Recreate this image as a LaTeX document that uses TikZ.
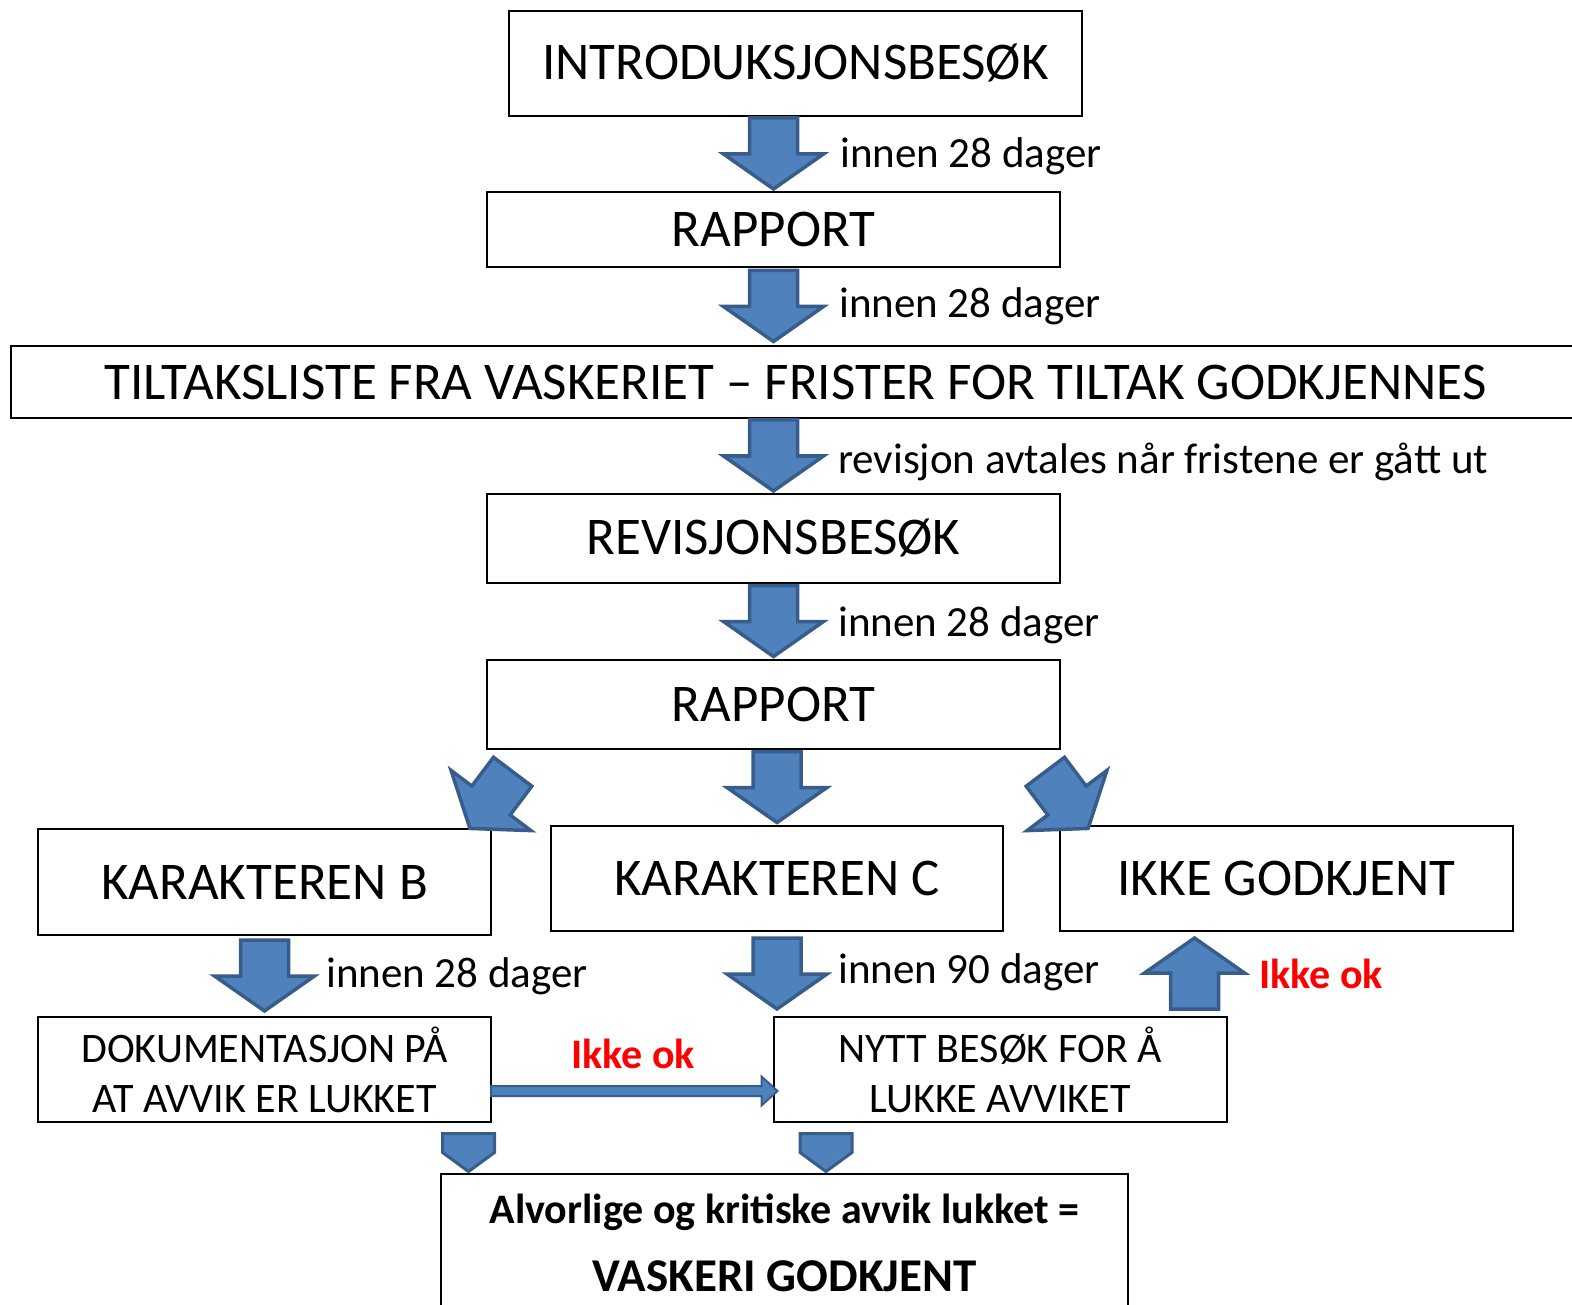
\documentclass[tikz,border=0pt]{standalone}
\usepackage{fontspec}
\setmainfont{Carlito}
\usetikzlibrary{calc, positioning}

\definecolor{arrowblue}{RGB}{79,129,189}
\definecolor{arrowedge}{RGB}{56,93,138}

\tikzset{
  box/.style={draw, line width=2pt, minimum width=573pt, inner sep=0pt,
    font=\fontsize{53}{60}\selectfont},
  smallbox/.style={box, minimum width=453pt, minimum height=105pt, align=center,
    font=\fontsize{42}{50}\selectfont},
  lbl/.style={anchor=base west, inner sep=0pt, font=\fontsize{43}{50}\selectfont},
  warn/.style={lbl, text=red, font=\fontsize{42}{50}\selectfont\bfseries},
  arrowfill/.style={fill=arrowblue, draw=arrowedge, line width=3.5pt},
  pics/blockarrow/.style={code={
    \draw[arrowfill] (-24,-36) -- (24,-36) -- (24,0) -- (50,0) -- (0,35)
      -- (-50,0) -- (-24,0) -- cycle;
  }},
  pics/stub/.style={code={
    \draw[arrowfill, line width=3pt] (-26,-19) -- (26,-19) -- (26,0) -- (0,19)
      -- (-26,0) -- cycle;
  }}
}

\begin{document}
\begin{tikzpicture}[x=1pt,y=-1pt]
\useasboundingbox (0,0) rectangle (1572,1305);

% boxes
\node[box, minimum height=105pt] (intro) at (795.5,63.5) {INTRODUKSJONSBESØK};
\node[box, minimum height=75pt] (rapA) at (773.5,229.5) {RAPPORT};
\node[box, minimum width=1569pt, minimum height=72pt] (tiltak) at (795.5,382)
  {TILTAKSLISTE FRA VASKERIET – FRISTER FOR TILTAK GODKJENNES};
\node[box, minimum height=89pt] (revis) at (773.5,538.5) {REVISJONSBESØK};
\node[box, minimum height=89pt] (rapB) at (773.5,704.5) {RAPPORT};

\node[box, minimum width=453pt, minimum height=106pt] (karB) at (264.5,882) {KARAKTEREN B};
\node[box, minimum width=452pt, minimum height=105pt] (karC) at (777,878.5) {KARAKTEREN C};
\node[box, minimum width=453pt, minimum height=105pt] (ikke) at (1286.5,878.5) {IKKE GODKJENT};

\node[smallbox] (dok) at (264.5,1069.5) {DOKUMENTASJON PÅ\\AT AVVIK ER LUKKET};
\node[smallbox] (nytt) at (1000,1069.5) {NYTT BESØK FOR Å\\LUKKE AVVIKET};

\node[box, minimum width=687pt, minimum height=150pt, anchor=north] (final) at (784.5,1173) {};
\node[font=\fontsize{42}{50}\selectfont\bfseries] (finalA) at ($(final.north)+(0,39)$)
  {Alvorlige og kritiske avvik lukket =};
\node[font=\fontsize{47}{55}\selectfont\bfseries] (finalB) at ($(final.north)+(0,103)$)
  {VASKERI GODKJENT};

% block arrows
\pic at ($(intro.south -| rapA.center)!.5!(rapA.north)$) {blockarrow};
\pic at ($(rapA.south)!.5!(tiltak.north -| rapA.south)$) {blockarrow};
\pic at ($(tiltak.south -| revis.north)!.5!(revis.north)$) {blockarrow};
\pic at ($(revis.south)!.5!(rapB.north)$) {blockarrow};
\pic at ($(rapB.south -| karC.north)!.5!(karC.north)$) {blockarrow};
\pic[rotate=-37] at ($(rapB.south west)+(5,50.5)$) {blockarrow};
\pic[rotate=37] at ($(rapB.south east)+(6,50.5)$) {blockarrow};
\pic at ($(karB.south)!.5!(dok.north -| karB.south)$) {blockarrow};
\pic at ($(karC.south)!.5!(nytt.north -| karC.south)$) {blockarrow};
\pic[rotate=180] at ($(nytt.north east)+(-33,-43)$) {blockarrow};
\pic at ($(final.north west)+(28.5,-20.5)$) {stub};
\pic at ($(final.north west)+(386,-20.5)$) {stub};

% thin arrow dok -> nytt
\draw[arrowfill, line width=2pt] ($(dok.east)+(-1,16.5)$) -- ($(nytt.west)+(-11,16.5)$)
  -- ($(nytt.west)+(-11,7)$) -- ($(nytt.west)+(5,21.5)$) -- ($(nytt.west)+(-11,36)$)
  -- ($(nytt.west)+(-11,26.5)$) -- ($(dok.east)+(-1,26.5)$) -- cycle;

% labels
\node[lbl] (d1) at (840,168) {innen 28 dager};
\node[lbl] (d2) at (839,318) {innen 28 dager};
\node[lbl] (rev) at (838,473) {revisjon avtales når fristene er gått ut};
\node[lbl] (d3) at (838,636) {innen 28 dager};
\node[lbl] (d4) at (326,987) {innen 28 dager};
\node[lbl] (d5) at (838,983) {innen 90 dager};
\node[warn] (nokA) at (1259,988) {Ikke ok};
\node[warn] (nokB) at (571,1068) {Ikke ok};
\end{tikzpicture}
\end{document}
